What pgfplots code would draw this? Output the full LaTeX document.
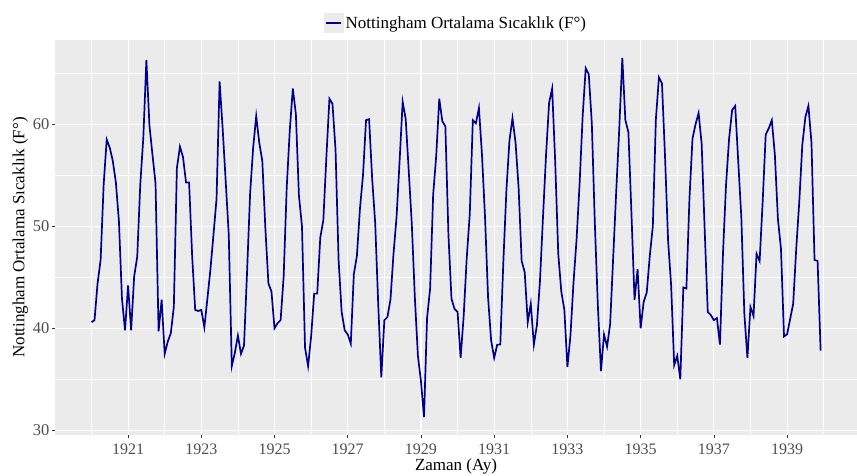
\documentclass[border=0pt]{standalone}
\usepackage{pgfplots}
\usepackage{pgfplotstable}
\usepackage{fontspec}
\setmainfont{Liberation Serif}
\pgfplotsset{compat=1.18}
\definecolor{panel}{HTML}{EBEBEB}
\definecolor{tickgrey}{HTML}{4D4D4D}
\definecolor{tickmark}{HTML}{333333}
\definecolor{navyline}{HTML}{00008B}
\pgfplotstableread{
year m t
1920 1 40.6
1920 2 40.8
1920 3 44.4
1920 4 46.7
1920 5 54.1
1920 6 58.5
1920 7 57.7
1920 8 56.4
1920 9 54.3
1920 10 50.5
1920 11 42.9
1920 12 39.8
1921 1 44.2
1921 2 39.8
1921 3 45.1
1921 4 47.0
1921 5 54.1
1921 6 58.7
1921 7 66.3
1921 8 59.9
1921 9 57.0
1921 10 54.2
1921 11 39.7
1921 12 42.8
1922 1 37.5
1922 2 38.7
1922 3 39.5
1922 4 42.1
1922 5 55.7
1922 6 57.8
1922 7 56.8
1922 8 54.3
1922 9 54.3
1922 10 47.1
1922 11 41.8
1922 12 41.7
1923 1 41.8
1923 2 40.1
1923 3 42.9
1923 4 45.8
1923 5 49.2
1923 6 52.7
1923 7 64.2
1923 8 59.6
1923 9 54.4
1923 10 49.2
1923 11 36.3
1923 12 37.6
1924 1 39.3
1924 2 37.5
1924 3 38.3
1924 4 45.5
1924 5 53.2
1924 6 57.7
1924 7 60.8
1924 8 58.2
1924 9 56.4
1924 10 49.8
1924 11 44.4
1924 12 43.6
1925 1 40.0
1925 2 40.5
1925 3 40.8
1925 4 45.1
1925 5 53.8
1925 6 59.4
1925 7 63.5
1925 8 61.0
1925 9 53.0
1925 10 50.0
1925 11 38.1
1925 12 36.3
1926 1 39.2
1926 2 43.4
1926 3 43.4
1926 4 48.9
1926 5 50.6
1926 6 56.8
1926 7 62.5
1926 8 62.0
1926 9 57.5
1926 10 46.7
1926 11 41.6
1926 12 39.8
1927 1 39.4
1927 2 38.5
1927 3 45.3
1927 4 47.1
1927 5 51.7
1927 6 55.0
1927 7 60.4
1927 8 60.5
1927 9 54.7
1927 10 50.3
1927 11 42.3
1927 12 35.2
1928 1 40.8
1928 2 41.1
1928 3 42.8
1928 4 47.3
1928 5 50.9
1928 6 56.4
1928 7 62.2
1928 8 60.5
1928 9 55.4
1928 10 50.2
1928 11 43.0
1928 12 37.3
1929 1 34.8
1929 2 31.3
1929 3 41.0
1929 4 43.9
1929 5 53.1
1929 6 56.9
1929 7 62.5
1929 8 60.3
1929 9 59.8
1929 10 49.2
1929 11 42.9
1929 12 41.9
1930 1 41.6
1930 2 37.1
1930 3 41.2
1930 4 46.9
1930 5 51.2
1930 6 60.4
1930 7 60.1
1930 8 61.6
1930 9 57.0
1930 10 50.9
1930 11 43.0
1930 12 38.8
1931 1 37.1
1931 2 38.4
1931 3 38.4
1931 4 46.5
1931 5 53.5
1931 6 58.4
1931 7 60.6
1931 8 58.2
1931 9 53.8
1931 10 46.6
1931 11 45.5
1931 12 40.6
1932 1 42.4
1932 2 38.4
1932 3 40.3
1932 4 44.6
1932 5 50.9
1932 6 57.0
1932 7 62.1
1932 8 63.5
1932 9 56.3
1932 10 47.3
1932 11 43.6
1932 12 41.8
1933 1 36.2
1933 2 39.3
1933 3 44.5
1933 4 48.7
1933 5 54.2
1933 6 60.8
1933 7 65.5
1933 8 64.9
1933 9 60.1
1933 10 50.2
1933 11 42.1
1933 12 35.8
1934 1 39.4
1934 2 38.2
1934 3 40.4
1934 4 46.9
1934 5 53.4
1934 6 59.6
1934 7 66.5
1934 8 60.4
1934 9 59.2
1934 10 51.2
1934 11 42.8
1934 12 45.8
1935 1 40.0
1935 2 42.6
1935 3 43.5
1935 4 47.1
1935 5 50.0
1935 6 60.5
1935 7 64.6
1935 8 64.0
1935 9 56.8
1935 10 48.6
1935 11 44.2
1935 12 36.4
1936 1 37.3
1936 2 35.0
1936 3 44.0
1936 4 43.9
1936 5 52.7
1936 6 58.6
1936 7 60.0
1936 8 61.1
1936 9 58.1
1936 10 49.6
1936 11 41.6
1936 12 41.3
1937 1 40.8
1937 2 41.0
1937 3 38.4
1937 4 47.4
1937 5 54.1
1937 6 58.6
1937 7 61.4
1937 8 61.8
1937 9 56.3
1937 10 50.9
1937 11 41.4
1937 12 37.1
1938 1 42.1
1938 2 41.2
1938 3 47.3
1938 4 46.6
1938 5 52.4
1938 6 59.0
1938 7 59.6
1938 8 60.4
1938 9 57.0
1938 10 50.7
1938 11 47.8
1938 12 39.2
1939 1 39.4
1939 2 40.9
1939 3 42.4
1939 4 47.8
1939 5 52.4
1939 6 58.0
1939 7 60.7
1939 8 61.8
1939 9 58.2
1939 10 46.7
1939 11 46.6
1939 12 37.8
}\nottem
\begin{document}
\begin{tikzpicture}[x=1pt,y=1pt]
\useasboundingbox (-55pt,-40pt) rectangle (802pt,435pt);
\begin{axis}[
  scale only axis,
  width=802pt, height=395pt,
  anchor=south west, at={(0pt,0pt)},
  xmin=1919.004, xmax=1940.91,
  ymin=29.54, ymax=68.26,
  axis background/.style={fill=panel},
  axis line style={draw=none},
  xtick={1921,1923,...,1939},
  minor xtick={1920,1922,...,1940},
  ytick={30,40,50,60},
  minor ytick={35,45,55,65},
  xtick pos=bottom, ytick pos=left,
  grid=both,
  major grid style={white, line width=1.1pt},
  minor grid style={white, line width=0.55pt},
  tick align=outside,
  major tick length=3pt,
  minor tick length=0pt,
  tick style={tickmark, line width=0.6pt},
  xticklabel style={/pgf/number format/1000 sep={}, text=tickgrey, font=\fontsize{16}{18}\selectfont, inner sep=0pt, anchor=base, yshift=-16pt},
  yticklabel style={text=tickgrey, font=\fontsize{16.5}{18}\selectfont, xshift=1pt},
  /pgf/number format/assume math mode=true,
  xlabel={Zaman (Ay)},
  ylabel={Nottingham Ortalama Sıcaklık (F°)},
  label style={font=\fontsize{17}{19}\selectfont},
  xlabel style={at={(axis description cs:0.5,0)}, anchor=base, inner sep=0pt, yshift=-35.5pt},
  ylabel style={yshift=-2pt},
  legend style={at={(0.5,1)}, anchor=south, yshift=7pt, draw=none, fill=none,
    font=\fontsize{17}{19}\selectfont, inner sep=0pt},
  legend image code/.code={
    \fill[panel] (0pt,-9pt) rectangle (18pt,9pt);
    \draw[navyline, line width=1.7pt] (1.5pt,0pt) -- (16.5pt,0pt);
  },
]
\addplot[navyline, line width=1.7pt] table[x expr=\thisrow{year}+(\thisrow{m}-1)/12, y=t] {\nottem};
\addlegendentry{Nottingham Ortalama Sıcaklık (F°)}
\end{axis}
\end{tikzpicture}
\end{document}
